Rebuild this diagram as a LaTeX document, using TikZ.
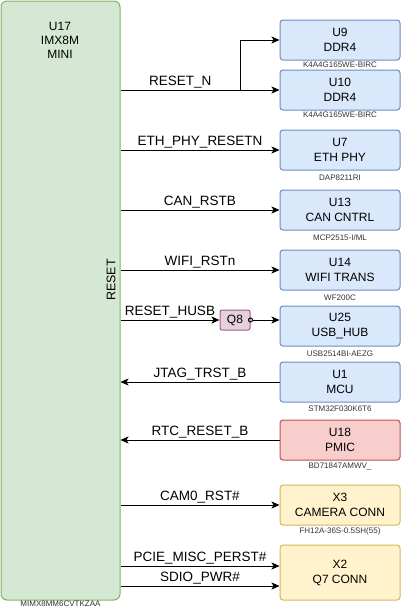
\documentclass[tikz,border=0pt]{standalone}
\usepackage{fontspec}
\setmainfont{Liberation Sans}
\usetikzlibrary{arrows.meta}

\definecolor{grnfill}{HTML}{D5E8D4}
\definecolor{grnline}{HTML}{82B366}
\definecolor{blufill}{HTML}{DAE8FC}
\definecolor{bluline}{HTML}{6C8EBF}
\definecolor{redfill}{HTML}{F8CECC}
\definecolor{redline}{HTML}{B85450}
\definecolor{ylwfill}{HTML}{FFF2CC}
\definecolor{ylwline}{HTML}{D6B656}
\definecolor{pnkfill}{HTML}{E6D0DE}
\definecolor{pnkline}{HTML}{996185}
\definecolor{txtgray}{HTML}{333333}

\begin{document}
\begin{tikzpicture}[
  x=1pt, y=-1pt,
  chip/.style={draw=#1line, fill=#1fill, rounded corners=3pt, line width=1pt,
    minimum width=120pt, minimum height=40pt, inner sep=0pt, align=center,
    font=\fontsize{12}{15}\selectfont},
  partno/.style={font=\fontsize{8}{9}\selectfont, text=txtgray, inner sep=1pt},
  wire/.style={line width=1pt},
  sig/.style={line width=1pt, -{Stealth[length=8pt,width=7pt,inset=2pt]}},
  signame/.style={anchor=base, yshift=5pt, inner sep=0pt,
    font=\fontsize{13.5}{14}\selectfont}
]
  \useasboundingbox (0,0) rectangle (401,611);

  % SoC
  \node[chip=grn, minimum width=119pt, minimum height=599pt, rounded corners=6pt,
    label={[partno,inner sep=0pt]below:MIMX8MM6CVTKZAA}] (u17) at (60.5,300.5) {};
  \node[align=center, font=\fontsize{12}{14}\selectfont] (u17name) at (60,40) {U17\\IMX8M\\MINI};
  \node[rotate=90, inner sep=0pt, font=\fontsize{12.5}{14}\selectfont] (u17pin) at (111,280) {RESET};

  % peripherals
  \node[chip=blu, label={[partno,label distance=0pt]below:K4A4G165WE-BIRC}] (u9) at (340,40) {U9\\DDR4};
  \node[chip=blu, label={[partno,label distance=0pt]below:K4A4G165WE-BIRC}] (u10) at (340,90) {U10\\DDR4};
  \node[chip=blu, label={[partno,label distance=3pt]below:DAP8211RI}] (u7) at (340,150) {U7\\ETH PHY};
  \node[chip=blu, label={[partno,label distance=3pt]below:MCP2515-I/ML}] (u13) at (340,210) {U13\\CAN CNTRL};
  \node[chip=blu, label={[partno,label distance=3pt]below:WF200C}] (u14) at (340,270) {U14\\WIFI TRANS};
  \node[chip=blu, label={[partno,label distance=3pt]below:USB2514BI-AEZG}] (u25) at (340,326) {U25\\USB\_HUB};
  \node[chip=blu, label={[partno,label distance=2pt]below:STM32F030K6T6}] (u1) at (340,382) {U1\\MCU};
  \node[chip=red, label={[partno,label distance=1pt]below:BD71847AMWV\_}] (u18) at (340,440) {U18\\PMIC};
  \node[chip=ylw, label={[partno,label distance=1pt]below:FH12A-36S-0.5SH(55)}] (x3) at (340,505) {X3\\CAMERA CONN};
  \node[chip=ylw, minimum height=55pt] (x2) at (340,572.5) {X2\\Q7 CONN};
  \node[chip=pnk, minimum width=30pt, minimum height=20pt, rounded corners=2pt] (q8) at (235,320) {Q8};

  % RESET_N goes to both DDR4
  \coordinate (split) at (240,90);
  \draw[wire] (u17.east |- u10.west) -- node[signame] {RESET\_N} (split);
  \draw[sig] (split) -- (u10.west);
  \draw[sig] (split) |- (u9.west);

  \draw[sig] (u17.east |- u7.west) -- node[signame] {ETH\_PHY\_RESETN} (u7.west);
  \draw[sig] (u17.east |- u13.west) -- node[signame] {CAN\_RSTB} (u13.west);
  \draw[sig] (u17.east |- u14.west) -- node[signame] {WIFI\_RSTn} (u14.west);

  % hub reset through inverter
  \draw[sig] (u17.east |- q8.west) -- node[signame] {RESET\_HUSB} (q8.west);
  \draw[line width=1pt, {Circle[open,length=5pt,width=5pt]}-{Stealth[length=8pt,width=7pt,inset=2pt]}]
    ([xshift=-2.5pt]q8.east) -- (u25.west |- q8.east);

  % inputs
  \draw[sig] (u1.west) -- node[signame] {JTAG\_TRST\_B} (u17.east |- u1.west);
  \draw[sig] (u18.west) -- node[signame] {RTC\_RESET\_B} (u17.east |- u18.west);

  \draw[sig] (u17.east |- x3.west) -- node[signame] {CAM0\_RST\#} (x3.west);
  \coordinate (x2a) at ([yshift=6.5pt]x2.west);
  \coordinate (x2b) at ([yshift=-13.5pt]x2.west);
  \draw[sig] (u17.east |- x2a) -- node[signame] {PCIE\_MISC\_PERST\#} (x2a);
  \draw[sig] (u17.east |- x2b) -- node[signame] {SDIO\_PWR\#} (x2b);

\end{tikzpicture}
\end{document}
